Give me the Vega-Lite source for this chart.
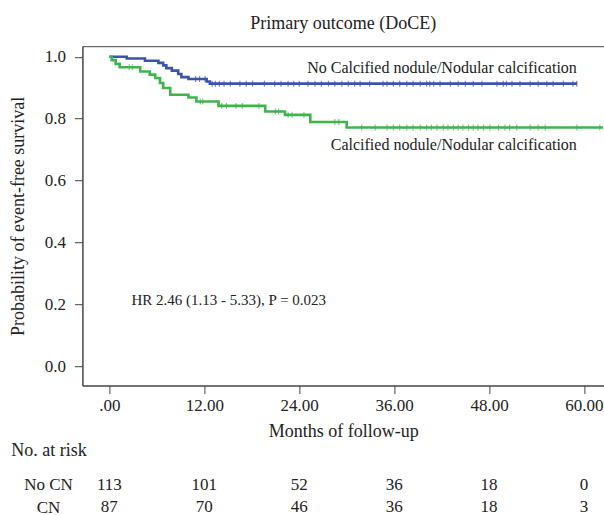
{
  "$schema": "https://vega.github.io/schema/vega-lite/v6.json",
  "autosize": "none",
  "width": 521.6,
  "height": 339.3,
  "padding": {"left": 82.4, "top": 46.2, "right": 0, "bottom": 130},
  "background": "white",
  "config": {
    "font": "Liberation Serif",
    "view": {"stroke": "#444", "strokeWidth": 1},
    "axis": {"labelFont": "Liberation Serif", "titleFont": "Liberation Serif", "labelColor": "#222", "titleColor": "#222", "titleFontWeight": "normal", "grid": false, "domainColor": "#444", "tickColor": "#444"},
    "title": {"font": "Liberation Serif", "fontWeight": "normal", "color": "#222"}
  },
  "title": {"text": "Primary outcome (DoCE)", "fontSize": 18, "offset": 13, "anchor": "middle"},
  "datasets": {
    "curves": [
      {"group": "No CN", "time": 0, "surv": 1.0},
      {"group": "No CN", "time": 2.2, "surv": 0.994},
      {"group": "No CN", "time": 4.5, "surv": 0.987},
      {"group": "No CN", "time": 6.2, "surv": 0.98},
      {"group": "No CN", "time": 6.8, "surv": 0.972},
      {"group": "No CN", "time": 7.2, "surv": 0.963},
      {"group": "No CN", "time": 7.9, "surv": 0.955},
      {"group": "No CN", "time": 8.7, "surv": 0.944},
      {"group": "No CN", "time": 9.1, "surv": 0.934},
      {"group": "No CN", "time": 10.0, "surv": 0.928},
      {"group": "No CN", "time": 12.3, "surv": 0.92},
      {"group": "No CN", "time": 12.7, "surv": 0.913},
      {"group": "No CN", "time": 59.1, "surv": 0.913},
      {"group": "CN", "time": 0, "surv": 1.0},
      {"group": "CN", "time": 0.3, "surv": 0.989},
      {"group": "CN", "time": 0.8, "surv": 0.977},
      {"group": "CN", "time": 1.3, "surv": 0.966},
      {"group": "CN", "time": 3.9, "surv": 0.952},
      {"group": "CN", "time": 5.1, "surv": 0.942},
      {"group": "CN", "time": 5.8, "surv": 0.931},
      {"group": "CN", "time": 6.4, "surv": 0.915},
      {"group": "CN", "time": 6.8, "surv": 0.899},
      {"group": "CN", "time": 7.7, "surv": 0.877},
      {"group": "CN", "time": 10.0, "surv": 0.868},
      {"group": "CN", "time": 11.0, "surv": 0.855},
      {"group": "CN", "time": 13.8, "surv": 0.841},
      {"group": "CN", "time": 19.7, "surv": 0.823},
      {"group": "CN", "time": 22.2, "surv": 0.812},
      {"group": "CN", "time": 25.4, "surv": 0.789},
      {"group": "CN", "time": 30.0, "surv": 0.771},
      {"group": "CN", "time": 62.4, "surv": 0.771}
    ],
    "censor": [
      {"group": "No CN", "time": 10.9, "surv": 0.928},
      {"group": "No CN", "time": 11.4, "surv": 0.928},
      {"group": "No CN", "time": 12.1, "surv": 0.928},
      {"group": "No CN", "time": 13.0, "surv": 0.913},
      {"group": "No CN", "time": 13.4, "surv": 0.913},
      {"group": "No CN", "time": 13.9, "surv": 0.913},
      {"group": "No CN", "time": 14.5, "surv": 0.913},
      {"group": "No CN", "time": 15.3, "surv": 0.913},
      {"group": "No CN", "time": 16.5, "surv": 0.913},
      {"group": "No CN", "time": 17.3, "surv": 0.913},
      {"group": "No CN", "time": 18.1, "surv": 0.913},
      {"group": "No CN", "time": 19.6, "surv": 0.913},
      {"group": "No CN", "time": 20.9, "surv": 0.913},
      {"group": "No CN", "time": 21.7, "surv": 0.913},
      {"group": "No CN", "time": 22.6, "surv": 0.913},
      {"group": "No CN", "time": 23.3, "surv": 0.913},
      {"group": "No CN", "time": 24.0, "surv": 0.913},
      {"group": "No CN", "time": 25.1, "surv": 0.913},
      {"group": "No CN", "time": 26.0, "surv": 0.913},
      {"group": "No CN", "time": 26.8, "surv": 0.913},
      {"group": "No CN", "time": 27.7, "surv": 0.913},
      {"group": "No CN", "time": 28.5, "surv": 0.913},
      {"group": "No CN", "time": 29.4, "surv": 0.913},
      {"group": "No CN", "time": 30.2, "surv": 0.913},
      {"group": "No CN", "time": 31.0, "surv": 0.913},
      {"group": "No CN", "time": 31.7, "surv": 0.913},
      {"group": "No CN", "time": 32.9, "surv": 0.913},
      {"group": "No CN", "time": 34.6, "surv": 0.913},
      {"group": "No CN", "time": 35.1, "surv": 0.913},
      {"group": "No CN", "time": 35.9, "surv": 0.913},
      {"group": "No CN", "time": 36.7, "surv": 0.913},
      {"group": "No CN", "time": 37.6, "surv": 0.913},
      {"group": "No CN", "time": 38.4, "surv": 0.913},
      {"group": "No CN", "time": 39.3, "surv": 0.913},
      {"group": "No CN", "time": 40.1, "surv": 0.913},
      {"group": "No CN", "time": 40.5, "surv": 0.913},
      {"group": "No CN", "time": 41.0, "surv": 0.913},
      {"group": "No CN", "time": 41.8, "surv": 0.913},
      {"group": "No CN", "time": 43.1, "surv": 0.913},
      {"group": "No CN", "time": 44.1, "surv": 0.913},
      {"group": "No CN", "time": 45.0, "surv": 0.913},
      {"group": "No CN", "time": 46.0, "surv": 0.913},
      {"group": "No CN", "time": 47.1, "surv": 0.913},
      {"group": "No CN", "time": 49.0, "surv": 0.913},
      {"group": "No CN", "time": 49.8, "surv": 0.913},
      {"group": "No CN", "time": 50.2, "surv": 0.913},
      {"group": "No CN", "time": 50.9, "surv": 0.913},
      {"group": "No CN", "time": 51.9, "surv": 0.913},
      {"group": "No CN", "time": 53.2, "surv": 0.913},
      {"group": "No CN", "time": 54.2, "surv": 0.913},
      {"group": "No CN", "time": 55.3, "surv": 0.913},
      {"group": "No CN", "time": 56.1, "surv": 0.913},
      {"group": "No CN", "time": 57.4, "surv": 0.913},
      {"group": "No CN", "time": 58.6, "surv": 0.913},
      {"group": "No CN", "time": 59.1, "surv": 0.913},
      {"group": "CN", "time": 2.5, "surv": 0.966},
      {"group": "CN", "time": 2.9, "surv": 0.966},
      {"group": "CN", "time": 11.5, "surv": 0.855},
      {"group": "CN", "time": 11.8, "surv": 0.855},
      {"group": "CN", "time": 14.2, "surv": 0.841},
      {"group": "CN", "time": 14.8, "surv": 0.841},
      {"group": "CN", "time": 16.0, "surv": 0.841},
      {"group": "CN", "time": 16.8, "surv": 0.841},
      {"group": "CN", "time": 18.9, "surv": 0.841},
      {"group": "CN", "time": 21.0, "surv": 0.823},
      {"group": "CN", "time": 21.4, "surv": 0.823},
      {"group": "CN", "time": 22.6, "surv": 0.812},
      {"group": "CN", "time": 23.1, "surv": 0.812},
      {"group": "CN", "time": 24.6, "surv": 0.812},
      {"group": "CN", "time": 28.5, "surv": 0.789},
      {"group": "CN", "time": 29.0, "surv": 0.789},
      {"group": "CN", "time": 31.9, "surv": 0.771},
      {"group": "CN", "time": 33.6, "surv": 0.771},
      {"group": "CN", "time": 35.1, "surv": 0.771},
      {"group": "CN", "time": 35.9, "surv": 0.771},
      {"group": "CN", "time": 36.7, "surv": 0.771},
      {"group": "CN", "time": 37.6, "surv": 0.771},
      {"group": "CN", "time": 38.4, "surv": 0.771},
      {"group": "CN", "time": 39.3, "surv": 0.771},
      {"group": "CN", "time": 40.1, "surv": 0.771},
      {"group": "CN", "time": 40.7, "surv": 0.771},
      {"group": "CN", "time": 41.4, "surv": 0.771},
      {"group": "CN", "time": 42.2, "surv": 0.771},
      {"group": "CN", "time": 42.8, "surv": 0.771},
      {"group": "CN", "time": 43.5, "surv": 0.771},
      {"group": "CN", "time": 44.1, "surv": 0.771},
      {"group": "CN", "time": 44.7, "surv": 0.771},
      {"group": "CN", "time": 45.4, "surv": 0.771},
      {"group": "CN", "time": 46.0, "surv": 0.771},
      {"group": "CN", "time": 46.6, "surv": 0.771},
      {"group": "CN", "time": 47.3, "surv": 0.771},
      {"group": "CN", "time": 48.1, "surv": 0.771},
      {"group": "CN", "time": 49.2, "surv": 0.771},
      {"group": "CN", "time": 50.0, "surv": 0.771},
      {"group": "CN", "time": 50.6, "surv": 0.771},
      {"group": "CN", "time": 51.5, "surv": 0.771},
      {"group": "CN", "time": 53.2, "surv": 0.771},
      {"group": "CN", "time": 54.2, "surv": 0.771},
      {"group": "CN", "time": 55.1, "surv": 0.771},
      {"group": "CN", "time": 59.1, "surv": 0.771},
      {"group": "CN", "time": 62.0, "surv": 0.771}
    ],
    "labels": [
      {"label": "No Calcified nodule/Nodular calcification", "time": 59.1, "surv": 0.9625},
      {"label": "Calcified nodule/Nodular calcification", "time": 59.1, "surv": 0.7145}
    ],
    "note": [
      {"label": "HR 2.46 (1.13 - 5.33), P = 0.023", "time": 2.8, "surv": 0.215}
    ],
    "risk": [
      {"group": "No CN", "time": 0, "n": 113},
      {"group": "No CN", "time": 12, "n": 101},
      {"group": "No CN", "time": 24, "n": 52},
      {"group": "No CN", "time": 36, "n": 36},
      {"group": "No CN", "time": 48, "n": 18},
      {"group": "No CN", "time": 60, "n": 0},
      {"group": "CN", "time": 0, "n": 87},
      {"group": "CN", "time": 12, "n": 70},
      {"group": "CN", "time": 24, "n": 46},
      {"group": "CN", "time": 36, "n": 36},
      {"group": "CN", "time": 48, "n": 18},
      {"group": "CN", "time": 60, "n": 3}
    ]
  },
  "layer": [
    {
      "encoding": {
        "x": {"field": "time", "type": "quantitative", "scale": {"domain": [-3.41, 62.53], "nice": false, "zero": false},
          "axis": {"values": [0, 12, 24, 36, 48, 60], "labelExpr": "datum.value == 0 ? '.00' : format(datum.value, '.2f')", "labelFontSize": 17, "tickSize": 8, "labelPadding": 4, "title": "Months of follow-up", "titleFontSize": 18, "titleY": 46, "titleBaseline": "middle"}},
        "y": {"field": "surv", "type": "quantitative", "scale": {"domain": [-0.063, 1.034], "nice": false, "zero": false},
          "axis": {"values": [0, 0.2, 0.4, 0.6, 0.8, 1.0], "format": ".1f", "labelFontSize": 17, "tickSize": 8, "labelPadding": 9, "title": "Probability of event-free survival", "titleFontSize": 18, "titleX": -64.4, "titleBaseline": "middle"}}
      },
      "layer": [
        {
          "data": {"name": "curves"},
          "mark": {"type": "line", "interpolate": "step-after", "strokeWidth": 2.6, "clip": true},
          "encoding": {
            "color": {"field": "group", "type": "nominal", "scale": {"domain": ["No CN", "CN"], "range": ["#3b55a6", "#3db54b"]}, "legend": null},
            "detail": {"field": "group"}
          }
        },
        {
          "data": {"name": "censor"},
          "mark": {"type": "tick", "orient": "vertical", "size": 6, "thickness": 1.2},
          "encoding": {
            "color": {"field": "group", "type": "nominal", "legend": null}
          }
        },
        {
          "data": {"name": "labels"},
          "mark": {"type": "text", "align": "right", "baseline": "middle", "fontSize": 16, "color": "#222"},
          "encoding": {
            "text": {"field": "label"}
          }
        },
        {
          "data": {"name": "note"},
          "mark": {"type": "text", "align": "left", "baseline": "middle", "fontSize": 15, "color": "#222"},
          "encoding": {
            "text": {"field": "label"}
          }
        }
      ]
    },
    {
      "data": {"name": "risk"},
      "mark": {"type": "text", "align": "center", "baseline": "middle", "fontSize": 17, "color": "#222"},
      "encoding": {
        "x": {"field": "time", "type": "quantitative"},
        "y": {"field": "group", "type": "nominal", "scale": {"type": "point", "padding": 0, "domain": ["No CN", "CN"], "range": [438.3, 461.2]},
          "axis": {"orient": "left", "domain": false, "ticks": false, "tickSize": 0, "labelAlign": "center", "labelPadding": 34.4, "labelFontSize": 17, "title": "No. at risk", "titleFontSize": 18, "titleAngle": 0, "titleAlign": "left", "titleBaseline": "middle", "titleX": -71.6, "titleY": 403.8}},
        "text": {"field": "n"}
      }
    }
  ],
  "resolve": {"scale": {"y": "independent"}, "axis": {"y": "independent"}}
}
